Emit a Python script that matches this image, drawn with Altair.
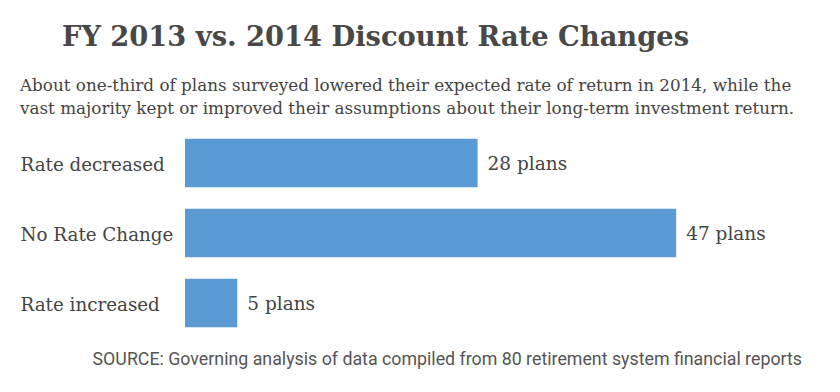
import altair as alt
import pandas as pd

categories = ["Rate decreased", "No Rate Change", "Rate increased"]
plans = [28, 47, 5]
value_labels = ["28 plans", "47 plans", "5 plans"]

title_text = "FY 2013 vs. 2014 Discount Rate Changes"
subtitle_lines = [
    "About one-third of plans surveyed lowered their expected rate of return in 2014, while the",
    "vast majority kept or improved their assumptions about their long-term investment return.",
]
source_text = "SOURCE: Governing analysis of data compiled from 80 retirement system financial reports"

df = pd.DataFrame({"category": categories, "plans": plans, "label": value_labels})
one = pd.DataFrame({"a": [0]})

SERIF = "DejaVu Serif"
GREY = "#444444"

y_enc = alt.Y(
    "category:N",
    sort=categories,
    title=None,
    scale=alt.Scale(paddingInner=0.31, paddingOuter=0.155),
    axis=alt.Axis(
        labelAlign="left",
        labelPadding=165,
        labelOffset=3,
        ticks=False,
        domain=False,
        labelFont=SERIF,
        labelFontSize=18.3,
        labelColor=GREY,
        labelLimit=200,
    ),
)
x_enc = alt.X("plans:Q", scale=alt.Scale(domain=[0, 60]), axis=None)

bars = alt.Chart(df).mark_bar(color="#5b9bd5").encode(x=x_enc, y=y_enc)
labels = alt.Chart(df).mark_text(
    align="left", baseline="middle", dx=10, dy=1, font=SERIF, fontSize=18.5, color=GREY
).encode(x=x_enc, y=alt.Y("category:N", sort=categories), text="label:N")

title = alt.Chart(one).mark_text(
    text=title_text, align="left", baseline="alphabetic", font=SERIF,
    fontSize=27.3, fontWeight="bold", color="#484848"
).encode(x=alt.value(-123), y=alt.value(-82))

sub1 = alt.Chart(one).mark_text(
    text=subtitle_lines[0], align="left", baseline="alphabetic", font=SERIF,
    fontSize=16.8, color=GREY
).encode(x=alt.value(-165), y=alt.value(-37))
sub2 = alt.Chart(one).mark_text(
    text=subtitle_lines[1], align="left", baseline="alphabetic", font=SERIF,
    fontSize=16.8, color=GREY
).encode(x=alt.value(-165), y=alt.value(-14))

source = alt.Chart(one).mark_text(
    text=source_text, align="right", baseline="alphabetic", font="Roboto",
    fontSize=17.8, color="#555555"
).encode(x=alt.value(617), y=alt.value(237))

chart = alt.layer(bars, labels, title, sub1, sub2, source).properties(
    width=627,
    height=210,
    autosize=alt.AutoSizeParams(type="none"),
    padding={"left": 177, "top": 120, "right": 20, "bottom": 46},
).configure_view(stroke=None)

chart.save("out.html", embed_options={"renderer": "svg", "actions": False})
